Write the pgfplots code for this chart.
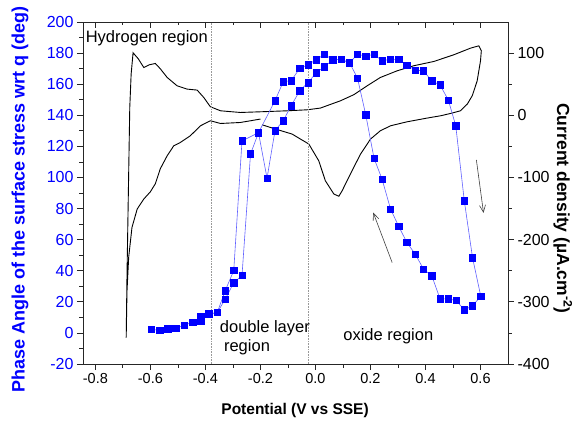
\documentclass[border=0pt]{standalone}
\usepackage{fontspec}
\setmainfont{Liberation Sans}
\usepackage{pgfplots}
\usepackage{pgfplotstable}
\pgfplotsset{compat=1.18}
\usetikzlibrary{arrows.meta}
\definecolor{phaseblue}{RGB}{0,0,255}
\definecolor{phaseline}{RGB}{95,95,255}

% phase angle, anodic scan
\pgfplotstableread{
x y
-0.596 2.4
-0.566 1.5
-0.537 2.6
-0.507 3.0
-0.476 5.0
-0.446 6.9
-0.417 7.3
-0.387 12.2
-0.357 13.1
-0.328 21.7
-0.297 32.3
-0.267 36.9
-0.236 115.1
-0.207 128.8
-0.176 99.5
-0.147 130.1
-0.117 136.5
-0.088 146.2
-0.057 155.8
-0.027 161.0
0.003 167.4
0.033 171.3
0.063 175.6
0.093 176.0
0.124 173.8
0.153 179.2
0.183 178.1
0.213 179.2
0.242 175.1
0.273 176.0
0.303 176.0
0.332 172.3
0.363 169.1
0.393 168.5
0.423 162.1
0.453 159.5
0.483 149.8
0.510 133.3
0.541 85.1
0.571 48.4
0.601 23.6
}\anodic

% phase angle, cathodic scan
\pgfplotstableread{
x y
0.601 23.6
0.571 17.4
0.541 14.8
0.512 20.8
0.483 21.9
0.453 21.9
0.423 36.7
0.393 41.0
0.363 50.6
0.332 58.3
0.303 68.4
0.273 79.7
0.242 99.0
0.213 112.3
0.183 140.2
0.153 163.8
0.124 173.8
0.093 176.0
0.063 175.6
0.033 179.2
0.003 175.8
-0.027 172.5
-0.057 170.2
-0.088 162.3
-0.117 161.6
-0.147 149.4
-0.207 128.8
-0.267 123.5
-0.297 40.1
-0.328 27.2
-0.357 13.1
-0.387 12.2
-0.417 10.5
}\cathodic

% cyclic voltammogram (uA/cm2)
\pgfplotstableread{
x y
-0.200 -6.1
-0.273 -11.6
-0.345 -13.2
-0.382 -8.8
-0.418 -16.9
-0.455 -33.0
-0.491 -43.7
-0.515 -49.0
-0.539 -65.1
-0.564 -86.0
-0.582 -110.1
-0.600 -123.0
-0.624 -134.7
-0.648 -150.8
-0.667 -180.4
-0.679 -228.6
-0.685 -282.2
-0.688 -357.7
-0.685 -255.3
-0.679 -94.5
-0.675 12.5
-0.670 66.2
-0.663 100.5
-0.644 90.8
-0.624 76.8
-0.604 81.2
-0.582 83.3
-0.564 74.8
-0.539 60.8
-0.503 47.4
-0.467 42.1
-0.430 40.5
-0.406 28.6
-0.382 13.7
-0.345 7.2
-0.273 4.5
-0.200 5.6
-0.103 7.2
-0.030 8.8
0.018 11.6
0.091 23.3
0.139 33.0
0.188 47.4
0.236 60.8
0.297 71.5
0.357 79.6
0.430 86.5
0.503 97.3
0.564 108.0
0.594 111.7
0.603 103.7
0.600 87.6
0.588 55.5
0.570 31.4
0.552 18.0
0.527 7.2
0.491 2.9
0.455 -0.8
0.406 -4.5
0.333 -10.5
0.273 -16.9
0.236 -24.9
0.200 -38.3
0.164 -62.4
0.139 -83.9
0.115 -105.3
0.097 -121.4
0.085 -130.2
0.067 -126.7
0.036 -105.3
0.012 -73.2
-0.024 -46.3
-0.085 -30.2
-0.145 -22.2
-0.194 -15.3
}\cv

\pgfplotsset{
  common/.style={
    scale only axis,
    width=425pt, height=342pt,
    xmin=-0.845, xmax=0.7,
    xtick={-0.8,-0.6,-0.4,-0.2,0,0.2,0.4,0.6},
    minor x tick num=1,
    axis line style={line width=0.9pt, black!85},
    tick style={line width=0.8pt, black!85},
    major tick length=6pt, minor tick length=3.5pt,
    /pgf/number format/assume math mode=true,
    x tick label style={font=\fontsize{14.5}{16}\selectfont,
      /pgf/number format/.cd, fixed, fixed zerofill, precision=1},
    y tick label style={font=\fontsize{16}{18}\selectfont},
    label style={font=\bfseries\fontsize{15.5}{17}\selectfont},
  }
}

\begin{document}
\begin{tikzpicture}
\useasboundingbox (-83pt,-56pt) rectangle (500pt,364pt);

% right axis: current density
\begin{axis}[
  common,
  ymin=-400, ymax=150,
  axis y line*=right, axis x line=none,
  ytick={-400,-300,-200,-100,0,100},
  minor y tick num=1,
  tick align=outside,
  ylabel={Current density (µA.cm\textsuperscript{-2})},
  ylabel style={at={(axis description cs:1.129,0.455)}, anchor=center, rotate=180,
    font=\bfseries\fontsize{17.5}{19}\selectfont},
]
\addplot[black, line width=0.9pt] table {\cv};
\end{axis}

% top ticks
\begin{axis}[
  common,
  ymin=-20, ymax=200,
  axis x line*=top, axis y line=none,
  xticklabels={},
  tick align=inside,
]
\end{axis}

% left axis: phase angle
\begin{axis}[
  common,
  ymin=-20, ymax=200,
  xtick pos=bottom, ytick pos=left,
  ytick={-20,0,20,40,60,80,100,120,140,160,180,200},
  minor y tick num=1,
  tick align=outside,
  y tick label style={text=phaseblue},
  xlabel={Potential (V vs SSE)},
  xlabel style={at={(axis description cs:0.499,-0.1345)}, anchor=center},
  ylabel={Phase Angle of the surface stress wrt q (deg)},
  ylabel style={at={(axis description cs:-0.148,0.48)}, anchor=center, text=phaseblue,
    font=\bfseries\fontsize{18}{20}\selectfont},
]
\addplot[densely dotted, gray!80, line width=0.6pt] coordinates {(-0.38,-20) (-0.38,200)};
\addplot[densely dotted, gray!80, line width=0.6pt] coordinates {(-0.025,-20) (-0.025,200)};
\addplot[phaseline, line width=0.6pt, mark=square*, mark size=3.2pt,
  mark options={fill=phaseblue, draw=phaseblue}] table {\anodic};
\addplot[phaseline, line width=0.6pt, mark=square*, mark size=3.2pt,
  mark options={fill=phaseblue, draw=phaseblue}] table {\cathodic};

\node[font=\fontsize{16.5}{18}\selectfont] at (axis cs:-0.613,189.4) {Hydrogen region};
\node[anchor=west, font=\fontsize{16.5}{18}\selectfont] at (axis cs:-0.36,3.2) {double layer};
\node[anchor=west, font=\fontsize{16.5}{18}\selectfont] at (axis cs:-0.345,-9.3) {region};
\node[font=\fontsize{16.5}{18}\selectfont] at (axis cs:0.265,-1.9) {oxide region};
\draw[-{Straight Barb[length=7pt, width=6pt]}, black!75, line width=0.6pt]
  (axis cs:0.585,111.3) -- (axis cs:0.611,77.2);
\draw[-{Straight Barb[length=7pt, width=6pt]}, black!75, line width=0.6pt]
  (axis cs:0.279,45.2) -- (axis cs:0.210,77.4);
\end{axis}
\end{tikzpicture}
\end{document}
